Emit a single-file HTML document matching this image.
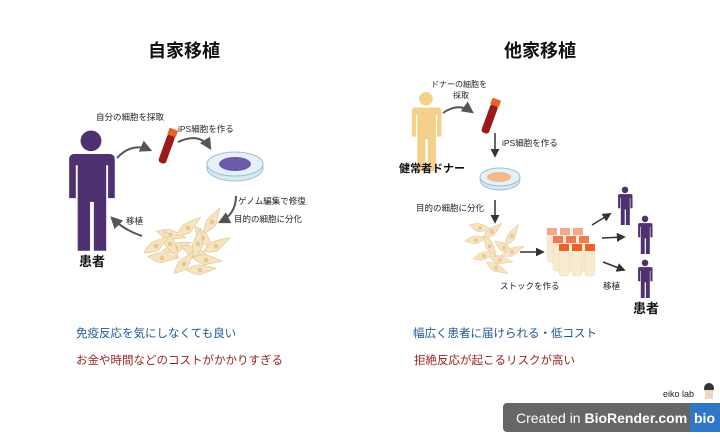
<!DOCTYPE html>
<html><head><meta charset="utf-8"><style>
body{margin:0;width:720px;height:432px;background:#fff;overflow:hidden;font-family:"Liberation Sans","Noto Sans CJK JP",sans-serif}
svg text{font-family:"Liberation Sans","Noto Sans CJK JP",sans-serif}
</style></head><body>
<svg width="720" height="432" viewBox="0 0 720 432" xmlns="http://www.w3.org/2000/svg">
<defs>
<marker id="a" viewBox="0 0 10 10" refX="8" refY="5" markerWidth="6" markerHeight="6" orient="auto"><path d="M0,0L10,5L0,10z" fill="#333"/></marker>
<marker id="g" viewBox="0 0 10 10" refX="8" refY="5" markerWidth="6" markerHeight="6" orient="auto"><path d="M0,0L10,5L0,10z" fill="#555"/></marker>
<g id="person"><circle cx="0" cy="-47" r="11"/><path d="M-20,-33h40a5,5 0 0 1 5,5v42h-7v-35h-2v91h-13v-52h-4v52h-13v-91h-2v35h-7v-42a5,5 0 0 1 5,-5z"/></g>
<g id="cell" fill="#f6e3c0" stroke="#e2c48e" stroke-width="0.6"><path d="M-14,1Q-4,-6 0,-5Q6,-5 16,-3Q6,2 0,5Q-6,5 -14,1z"/><circle cx="0" cy="0" r="2" fill="#e8c98f"/></g>
</defs>
<text x="184" y="57" font-size="18" font-weight="bold" text-anchor="middle" fill="#111">自家移植</text>
<text x="540" y="57" font-size="18" font-weight="bold" text-anchor="middle" fill="#111">他家移植</text>

<!-- left -->
<g fill="#4f3070" transform="translate(91,185) scale(0.95,0.94)"><use href="#person"/></g>
<text x="92" y="266" font-size="13" font-weight="bold" text-anchor="middle" fill="#111">患者</text>
<text x="96" y="120" font-size="8.5" fill="#222">自分の細胞を採取</text>
<text x="178" y="132" font-size="8.5" fill="#222">iPS細胞を作る</text>
<text x="238" y="204" font-size="8.5" fill="#222">ゲノム編集で修復</text>
<text x="234" y="222" font-size="8.5" fill="#222">目的の細胞に分化</text>
<text x="126" y="224" font-size="8.5" fill="#222">移植</text>
<path d="M117,158Q132,142 150,150" stroke="#555" stroke-width="2" fill="none" marker-end="url(#g)"/>
<path d="M178,142Q200,132 210,148" stroke="#555" stroke-width="2" fill="none" marker-end="url(#g)"/>
<path d="M236,196Q236,214 220,222" stroke="#555" stroke-width="2" fill="none" marker-end="url(#g)"/>
<path d="M142,236Q124,230 112,218" stroke="#555" stroke-width="2" fill="none" marker-end="url(#g)"/>
<g transform="translate(167,148) rotate(20)"><rect x="-4" y="-14" width="8" height="30" rx="3" fill="#9b1b1b"/><rect x="-4.5" y="-20" width="9" height="7" fill="#e8622a"/></g>
<ellipse cx="235" cy="168" rx="28" ry="13" fill="#d9e9f2" stroke="#9cc0d4"/>
<ellipse cx="235" cy="164" rx="28" ry="12" fill="#e6f1f7" stroke="#9cc0d4"/>
<ellipse cx="235" cy="164" rx="16" ry="7" fill="#6a5aa8"/>
<g><use href="#cell" transform="translate(170,235) rotate(20)"/><use href="#cell" transform="translate(188,228) rotate(-30)"/><use href="#cell" transform="translate(203,238) rotate(60)"/><use href="#cell" transform="translate(176,248) rotate(-10)"/><use href="#cell" transform="translate(194,252) rotate(30)"/><use href="#cell" transform="translate(212,222) rotate(-50)"/><use href="#cell" transform="translate(162,258) rotate(10)"/><use href="#cell" transform="translate(184,264) rotate(-40)"/><use href="#cell" transform="translate(206,260) rotate(15)"/><use href="#cell" transform="translate(216,246) rotate(-20)"/><use href="#cell" transform="translate(170,244) rotate(70)"/><use href="#cell" transform="translate(198,244) rotate(-70)"/><use href="#cell" transform="translate(156,246) rotate(-25)"/><use href="#cell" transform="translate(200,270) rotate(5)"/></g>

<!-- right -->
<g fill="#f5d08a" transform="translate(426,128) scale(0.62)"><use href="#person"/></g>
<text x="432" y="172" font-size="11" font-weight="bold" text-anchor="middle" fill="#111">健常者ドナー</text>
<text x="431" y="87" font-size="8" fill="#222">ドナーの細胞を</text>
<text x="453" y="98" font-size="8" fill="#222">採取</text>
<path d="M443,113Q458,102 472,112" stroke="#555" stroke-width="2" fill="none" marker-end="url(#g)"/>
<g transform="translate(490,118) rotate(20)"><rect x="-4" y="-14" width="8" height="30" rx="3" fill="#9b1b1b"/><rect x="-4.5" y="-20" width="9" height="7" fill="#e8622a"/></g>
<text x="502" y="146" font-size="8.5" fill="#222">iPS細胞を作る</text>
<line x1="495" y1="133" x2="495" y2="156" stroke="#333" stroke-width="1.5" marker-end="url(#a)"/>
<ellipse cx="500" cy="180" rx="20" ry="10" fill="#d9e9f2" stroke="#9cc0d4"/>
<ellipse cx="500" cy="177" rx="20" ry="9" fill="#e6f1f7" stroke="#9cc0d4"/>
<ellipse cx="499" cy="177" rx="12" ry="5" fill="#f3b98c"/>
<text x="416" y="211" font-size="8.5" fill="#222">目的の細胞に分化</text>
<line x1="495" y1="200" x2="495" y2="222" stroke="#333" stroke-width="1.5" marker-end="url(#a)"/>
<g transform="scale(0.8)"><use href="#cell" transform="translate(595,300)"/><use href="#cell" transform="translate(615,290) rotate(-30)"/><use href="#cell" transform="translate(630,310) rotate(40)"/><use href="#cell" transform="translate(605,320) rotate(-10)"/><use href="#cell" transform="translate(625,325) rotate(20)"/><use href="#cell" transform="translate(640,295) rotate(-50)"/><use href="#cell" transform="translate(612,308) rotate(70)"/><use href="#cell" transform="translate(600,285) rotate(20)"/><use href="#cell" transform="translate(640,315) rotate(-15)"/><use href="#cell" transform="translate(620,335) rotate(35)"/></g>
<line x1="520" y1="252" x2="543" y2="252" stroke="#333" stroke-width="1.5" marker-end="url(#a)"/>
<g>
<rect x="547" y="230" width="10" height="32" rx="3" fill="#f7ecd0" stroke="#e8d8b0" stroke-width=".5"/><rect x="547" y="228" width="10" height="7" fill="#f6a88c"/>
<rect x="560" y="230" width="10" height="32" rx="3" fill="#f7ecd0"/><rect x="560" y="228" width="10" height="7" fill="#f6a88c"/>
<rect x="573" y="230" width="10" height="32" rx="3" fill="#f7ecd0"/><rect x="573" y="228" width="10" height="7" fill="#f6a88c"/>
<rect x="553" y="238" width="10" height="33" rx="3" fill="#f7ecd0" stroke="#e8d8b0" stroke-width=".5"/><rect x="553" y="236" width="10" height="7" fill="#ef7a52"/>
<rect x="566" y="238" width="10" height="33" rx="3" fill="#f7ecd0" stroke="#e8d8b0" stroke-width=".5"/><rect x="566" y="236" width="10" height="7" fill="#ef7a52"/>
<rect x="579" y="238" width="10" height="33" rx="3" fill="#f7ecd0" stroke="#e8d8b0" stroke-width=".5"/><rect x="579" y="236" width="10" height="7" fill="#ef7a52"/>
<rect x="559" y="246" width="10" height="30" rx="3" fill="#f7ecd0" stroke="#e8d8b0" stroke-width=".5"/><rect x="559" y="244" width="10" height="7" fill="#e8622a"/>
<rect x="572" y="246" width="10" height="30" rx="3" fill="#f7ecd0" stroke="#e8d8b0" stroke-width=".5"/><rect x="572" y="244" width="10" height="7" fill="#e8622a"/>
<rect x="585" y="246" width="10" height="30" rx="3" fill="#f7ecd0" stroke="#e8d8b0" stroke-width=".5"/><rect x="585" y="244" width="10" height="7" fill="#e8622a"/>
</g>
<text x="500" y="289" font-size="8.5" fill="#222">ストックを作る</text>
<text x="603" y="289" font-size="8.5" fill="#222">移植</text>
<line x1="592" y1="225" x2="610" y2="214" stroke="#333" stroke-width="1.5" marker-end="url(#a)"/>
<line x1="602" y1="238" x2="624" y2="237" stroke="#333" stroke-width="1.5" marker-end="url(#a)"/>
<line x1="603" y1="262" x2="624" y2="270" stroke="#333" stroke-width="1.5" marker-end="url(#a)"/>
<g fill="#4f3070"><g transform="translate(625,204) scale(0.3)"><use href="#person"/></g><g transform="translate(645,233) scale(0.3)"><use href="#person"/></g><g transform="translate(645,277) scale(0.3)"><use href="#person"/></g></g>
<text x="646" y="313" font-size="13" font-weight="bold" text-anchor="middle" fill="#111">患者</text>

<!-- bottom -->
<text x="76" y="337" font-size="11.5" fill="#1f5596">免疫反応を気にしなくても良い</text>
<text x="76" y="364" font-size="11.5" fill="#9a1e1e">お金や時間などのコストがかかりすぎる</text>
<text x="413" y="337" font-size="11.5" fill="#1f5596">幅広く患者に届けられる・低コスト</text>
<text x="414" y="364" font-size="11.5" fill="#9a1e1e">拒絶反応が起こるリスクが高い</text>

<text x="663" y="397" font-size="9" fill="#222">eiko lab</text>
<circle cx="709" cy="388" r="5" fill="#333"/><rect x="705" y="390" width="8" height="9" fill="#f0d8c0"/>
<rect x="503" y="403" width="190" height="29" rx="4" fill="#666"/>
<rect x="690" y="403" width="30" height="29" fill="#2f78c8"/>
<text x="516" y="423" font-size="14" fill="#fff">Created in <tspan font-weight="bold">BioRender.com</tspan></text>
<text x="694" y="423" font-size="14" font-weight="bold" fill="#fff">bio</text>
</svg>
</body></html>
